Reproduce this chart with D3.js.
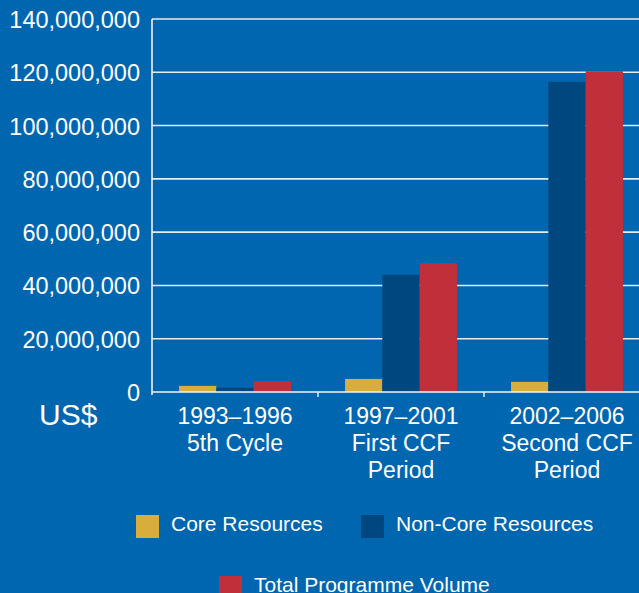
<!DOCTYPE html>
<html>
<head>
<meta charset="utf-8">
<script src="https://cdn.jsdelivr.net/npm/d3@7"></script>
<style>
  html, body { margin: 0; padding: 0; background: #0066b0; overflow: hidden; }
  text { font-family: "Liberation Sans", Arial, sans-serif; fill: #fff; }
</style>
</head>
<body>
<div id="chart"></div>
<script>
// categories (each label split into lines)
var categories = ['1993–1996', '1997–2001', '2002–2006'];
var categoryLines = [
    ['1993–1996', '5th Cycle'],
    ['1997–2001', 'First CCF', 'Period'],
    ['2002–2006', 'Second CCF', 'Period']
];
var seriesNames = ['Core Resources', 'Non-Core Resources', 'Total Programme Volume'];
var seriesColors = ['#d9ad3c', '#00467f', '#c1303a'];

// values in US$
var coreValues = [2300000, 4900000, 3800000];
var nonCoreValues = [1600000, 44000000, 116400000];
var totalValues = [4100000, 48400000, 120400000];

var yTicks = [0, 20000000, 40000000, 60000000, 80000000, 100000000, 120000000, 140000000];

var width = 639, height = 593;

var svg = d3.select('#chart').append('svg')
    .attr('width', width)
    .attr('height', height);

var x = d3.scaleBand()
    .domain(categories)
    .range([152, 650])
    .paddingInner(0)
    .paddingOuter(0);

var xInner = d3.scaleBand()
    .domain(seriesNames)
    .range([0, x.bandwidth()])
    .paddingInner(0)
    .paddingOuter(0.725);

var y = d3.scaleLinear()
    .domain([0, 140000000])
    .range([392, 19]);

var fmt = d3.format(',');

// gridlines
svg.append('g').selectAll('line')
    .data(yTicks.slice(1))
    .enter().append('line')
    .attr('x1', 152).attr('x2', width)
    .attr('y1', function (d) { return y(d); })
    .attr('y2', function (d) { return y(d); })
    .style('stroke', '#e3ecf5')
    .style('stroke-width', 1.6);

// y axis
var yAxis = d3.axisLeft(y).tickValues(yTicks).tickSize(0).tickPadding(12).tickFormat(fmt);
var yG = svg.append('g')
    .attr('transform', 'translate(152,0)')
    .call(yAxis);
yG.select('.domain').style('stroke', '#f0f4f8').style('stroke-width', 1.6).attr('d', 'M0,19V395');
yG.selectAll('text').style('font-size', '23.5px').attr('dy', '0.36em');

// bars
var seriesData = [coreValues, nonCoreValues, totalValues];
var groups = svg.append('g').selectAll('g')
    .data(categories)
    .enter().append('g')
    .attr('transform', function (d) { return 'translate(' + x(d) + ',0)'; });

groups.selectAll('rect')
    .data(function (d, i) {
        return seriesNames.map(function (s, j) { return { name: s, value: seriesData[j][i], idx: j }; });
    })
    .enter().append('rect')
    .attr('x', function (d) { return xInner(d.name); })
    .attr('width', xInner.bandwidth())
    .attr('y', function (d) { return y(d.value); })
    .attr('height', function (d) { return y(0) - y(d.value); })
    .style('fill', function (d) { return seriesColors[d.idx]; });

// x axis line and ticks
svg.append('line')
    .attr('x1', 152).attr('x2', width)
    .attr('y1', y(0)).attr('y2', y(0))
    .style('stroke', '#f0f4f8')
    .style('stroke-width', 1.6);

svg.append('g').selectAll('line')
    .data(categories.slice(1))
    .enter().append('line')
    .attr('x1', function (d) { return x(d); })
    .attr('x2', function (d) { return x(d); })
    .attr('y1', y(0)).attr('y2', y(0) + 5)
    .style('stroke', '#f0f4f8')
    .style('stroke-width', 1.4);

// category labels
var labels = svg.append('g').selectAll('text')
    .data(categories)
    .enter().append('text')
    .attr('text-anchor', 'middle')
    .style('font-size', '23px');

labels.each(function (d, i) {
    var t = d3.select(this);
    categoryLines[i].forEach(function (line, k) {
        t.append('tspan')
            .attr('x', x(d) + x.bandwidth() / 2)
            .attr('y', 424 + k * 27)
            .text(line);
    });
});

// unit label
svg.append('text')
    .attr('x', 39).attr('y', 425)
    .style('font-size', '30px')
    .text('US$');

// legend
var legendPos = [
    { x: 136, y: 515 },
    { x: 361, y: 515 },
    { x: 219, y: 576 }
];

var legend = svg.append('g').selectAll('g')
    .data(seriesNames)
    .enter().append('g')
    .attr('transform', function (d, i) { return 'translate(' + legendPos[i].x + ',' + legendPos[i].y + ')'; });

legend.append('rect')
    .attr('width', 23).attr('height', 23)
    .style('fill', function (d, i) { return seriesColors[i]; });

legend.append('text')
    .attr('x', 35).attr('y', 16)
    .style('font-size', '21px')
    .text(function (d) { return d; });
</script>
</body>
</html>
